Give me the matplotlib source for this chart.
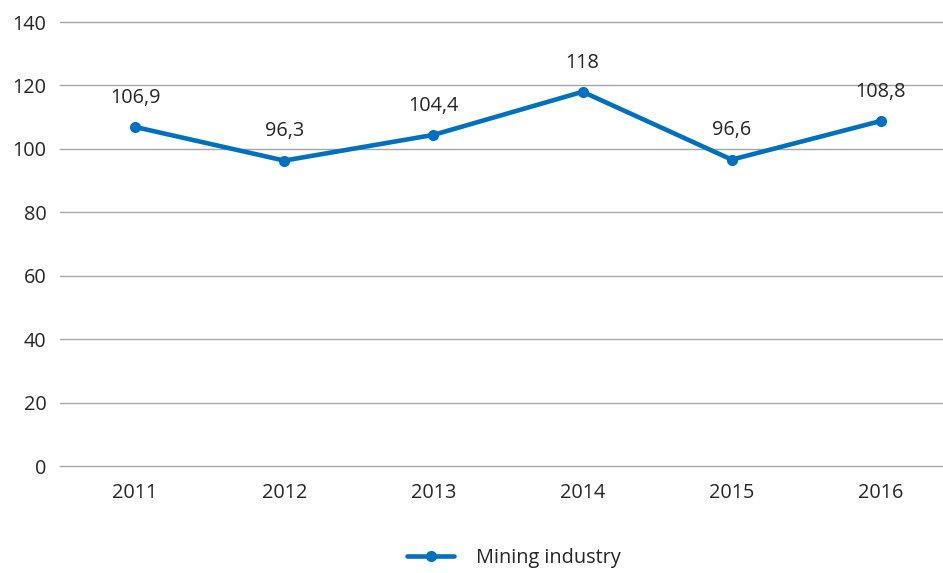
import matplotlib
import matplotlib.pyplot as plt
from matplotlib.ticker import MultipleLocator

matplotlib.rcParams['font.family'] = ['Open Sans', 'DejaVu Sans']

years = ["2011", "2012", "2013", "2014", "2015", "2016"]
mining = [106.9, 96.3, 104.4, 118.0, 96.6, 108.8]
point_labels = ["106,9", "96,3", "104,4", "118", "96,6", "108,8"]
series_name = "Mining industry"

BLUE = "#0070C0"
GRID = "#A6A6A6"
TEXT = "#262626"
FS = 14.3

fig = plt.figure(figsize=(9.43, 5.73), dpi=100)
# plot area runs a little past the right edge of the canvas, as in the reference
ax = fig.add_axes([60.5 / 943, 1 - 466 / 573, 895 / 943, 444 / 573])

x = list(range(len(years)))
ax.plot(x, mining, color=BLUE, linewidth=3.3, marker="o", markersize=7,
        label=series_name, zorder=3, solid_capstyle="round")

for xi, yi, lab in zip(x, mining, point_labels):
    ax.annotate(lab, (xi, yi), xytext=(0, 21), textcoords="offset points",
                ha="center", va="center", fontsize=FS, color=TEXT)

ax.set_xlim(-0.5, len(years) - 0.5)
ax.set_ylim(0, 140)
ax.yaxis.set_major_locator(MultipleLocator(20))
ax.set_xticks(x)
ax.set_xticklabels(years)
ax.tick_params(axis="both", length=0, labelsize=FS, colors=TEXT)
ax.tick_params(axis="x", pad=12)
ax.tick_params(axis="y", pad=10)
ax.grid(axis="y", color=GRID, linewidth=1.0)
for gl in ax.get_ygridlines():
    gl.set_clip_on(False)
ax.set_axisbelow(True)
for side in ["top", "right", "left", "bottom"]:
    ax.spines[side].set_visible(False)

# legend sits at the very bottom edge; kept just inside so the text is not cut
fig.legend(loc="center", bbox_to_anchor=(514 / 943, 1 - 558 / 573),
           frameon=False, fontsize=FS, handlelength=2.35, handletextpad=1.1,
           labelcolor=TEXT, borderpad=0.2)

fig.savefig("out.png", dpi=100)
